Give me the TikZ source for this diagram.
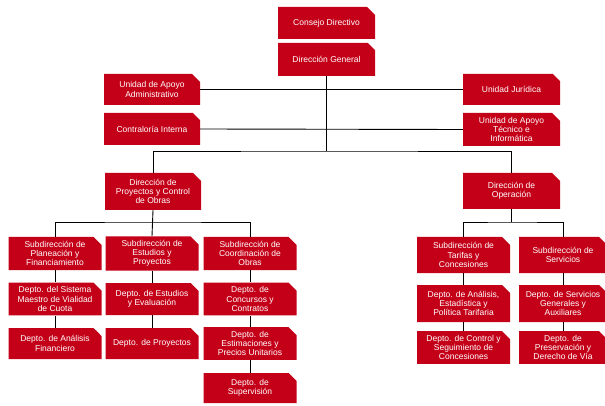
\documentclass[tikz,border=0pt]{standalone}
\usepackage{fontspec}
\setmainfont{Liberation Sans}
\usetikzlibrary{shapes.misc}
\definecolor{rojo}{RGB}{196,0,24}

\begin{document}
\begin{tikzpicture}[x=1pt,y=-1pt,
	caja/.style={chamfered rectangle, chamfered rectangle corners=north east,
		chamfered rectangle sep=4pt, fill=rojo, text=white, inner sep=0pt,
		align=center, font=\fontsize{8.5}{9.2}\selectfont,
		minimum width=93pt, minimum height=32pt},
	linea/.style={line width=0.9pt}]
			\useasboundingbox (0,0) rectangle (605,406);
			
			% node point
			
			\node[caja, minimum width=97pt] (consejo) at (326.5,23) {Consejo Directivo};
			\node[caja, minimum width=97pt, minimum height=33pt] (general) at (326.5,59.5) {Dirección General};
			
			\node[caja, minimum width=96pt, minimum height=31pt] (apoyoadm) at (152,89.5) {Unidad de Apoyo\\Administrativo};
			\node[caja, minimum width=96pt] (contraloria) at (152,129) {Contraloría Interna};
			\node[caja, minimum width=97pt, minimum height=31pt] (juridica) at (511.5,89.5) {Unidad Jurídica};
			\node[caja, minimum width=97pt, minimum height=33pt] (tecnico) at (511.5,129.5) {Unidad de Apoyo\\Técnico e\\Informática};
			
			\node[caja, minimum width=96pt, minimum height=37pt] (proyectos) at (153,191.5) {Dirección de\\Proyectos y Control\\de Obras};
			\node[caja, minimum width=97pt, minimum height=36pt] (operacion) at (511.5,191) {Dirección de\\Operación};
			
			% proyectos y control de obras
			
			\node[caja, minimum height=33pt] (planeacion) at (55,253.5) {Subdirección de\\Planeación y\\Financiamiento};
			\node[caja] (sistema) at (55,299) {Depto. del Sistema\\Maestro de Vialidad\\de Cuota};
			\node[caja, minimum height=31pt] (analisisfin) at (55,343.5) {Depto. de Análisis\\Financiero};
			
			\node[caja, minimum height=33pt] (estudios) at (152,253.5) {Subdirección de\\Estudios y\\Proyectos};
			\node[caja] (evaluacion) at (152,299) {Depto. de Estudios\\y Evaluación};
			\node[caja, minimum height=31pt] (deptoproy) at (152,343.5) {Depto. de Proyectos};
			
			\node[caja, minimum height=33pt] (coordinacion) at (250,253.5) {Subdirección de\\Coordinación de\\Obras};
			\node[caja] (concursos) at (250,299) {Depto. de\\Concursos y\\Contratos};
			\node[caja, minimum height=31pt] (estimaciones) at (250,343.5) {Depto. de\\Estimaciones y\\Precios Unitarios};
			\node[caja, minimum height=30pt] (supervision) at (250,388) {Depto. de\\Supervisión};
			
			% operacion
			
			\node[caja, minimum height=36pt] (tarifas) at (463.5,255) {Subdirección de\\Tarifas y\\Concesiones};
			\node[caja, minimum height=37pt] (estadistica) at (463.5,303.5) {Depto. de Análisis,\\Estadística y\\Política Tarifaria};
			\node[caja, minimum height=31pt] (seguimiento) at (463.5,347.5) {Depto. de Control y\\Seguimiento de\\Concesiones};
			
			\node[caja, minimum width=88pt, minimum height=36pt] (servicios) at (563,255) {Subdirección de\\Servicios};
			\node[caja, minimum width=88pt, minimum height=37pt] (generales) at (563,303.5) {Depto. de Servicios\\Generales y\\Auxiliares};
			\node[caja, minimum width=88pt, minimum height=31pt] (preservacion) at (563,347.5) {Depto. de\\Preservación y\\Derecho de Vía};
			
			% draw
			
			\coordinate (j1) at (326.5,151);
			\coordinate (j2) at (153,222);
			\coordinate (j3) at (511.5,222);
			
			\draw[linea] (general.south) -- (j1);
			\draw[linea] (apoyoadm.east) -- (juridica.west);
			\draw[linea] (contraloria.east) -- (tecnico.west);
			\draw[linea] (proyectos.north) |- (j1) -| (operacion.north);
			
			\draw[linea] (proyectos.south) -- (estudios.north);
			\draw[linea] (planeacion.north) |- (j2) -| (coordinacion.north);
			\draw[linea] (operacion.south) -- (j3);
			\draw[linea] (tarifas.north) |- (j3) -| (servicios.north);
			
			\draw[linea] (planeacion.south) -- (sistema.north) (sistema.south) -- (analisisfin.north);
			\draw[linea] (estudios.south) -- (evaluacion.north) (evaluacion.south) -- (deptoproy.north);
			\draw[linea] (coordinacion.south) -- (concursos.north) (concursos.south) -- (estimaciones.north)
			(estimaciones.south) -- (supervision.north);
			\draw[linea] (tarifas.south) -- (estadistica.north) (estadistica.south) -- (seguimiento.north);
			\draw[linea] (servicios.south) -- (generales.north) (generales.south) -- (preservacion.north);
			
		\end{tikzpicture}
\end{document}
